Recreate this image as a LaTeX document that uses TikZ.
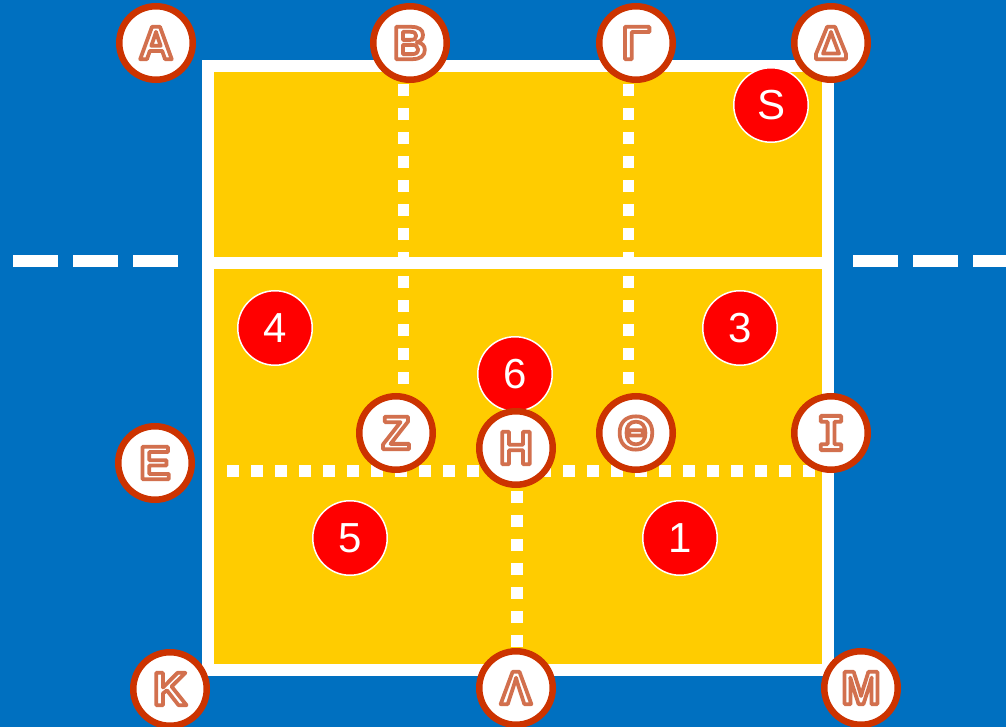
\documentclass[tikz,border=0pt]{standalone}
\usepackage{fontspec}
\setmainfont{Liberation Sans}
\newfontfamily\letfont{Liberation Sans Bold}[FakeBold=8]
\newfontfamily\iotafont{DejaVu Sans Mono Bold}[FakeBold=8]
\definecolor{bluebg}{HTML}{0070C0}
\definecolor{court}{HTML}{FFCC00}
\definecolor{ringc}{HTML}{CC3300}
\definecolor{letc}{HTML}{D2704E}
\definecolor{numred}{HTML}{FF0000}
\newcommand\lettxt[1]{\textcolor{white}{\special{pdf:literal direct 0.824 0.439 0.306 RG 1 j}#1}}
\tikzset{
  letring/.style={circle, draw=ringc, line width=6.5pt, fill=white, minimum size=73.5pt, inner sep=0pt,
    font=\fontsize{47}{47}\selectfont\letfont},
  numdisc/.style={circle, draw=white, line width=1.5pt, fill=numred, minimum size=74.5pt, inner sep=0pt,
    text=white, font=\fontsize{42}{42}\selectfont},
  dotline/.style={white, line width=11.5pt, dash pattern=on 12pt off 12pt},
  sideline/.style={white, line width=11.7pt, dash pattern=on 45pt off 15pt},
}
\begin{document}
\begin{tikzpicture}[x=1pt,y=-1pt]
\useasboundingbox (0,0) rectangle (1006,727);
\fill[bluebg] (0,0) rectangle (1006,727);
% court
\draw[white, line width=12pt, fill=court] (208,66) rectangle (828,670);
\coordinate (netL) at (214,263);
\coordinate (netR) at (822,263);
\draw[white, line width=12pt] (netL) -- (netR);
% dotted zone lines
\coordinate (v1a) at (403.5,84);  \coordinate (v1b) at (403.5,384);
\coordinate (v2a) at (628.5,84);  \coordinate (v2b) at (628.5,384);
\coordinate (ha) at (227,471);    \coordinate (hb) at (815,471);
\coordinate (v3a) at (517,491);   \coordinate (v3b) at (517,647);
\draw[dotline] (v1a) -- (v1b);
\draw[dotline] (v2a) -- (v2b);
\draw[dotline] (ha) -- (hb);
\draw[dotline] (v3a) -- (v3b);
% outside dashes
\coordinate (dl1) at (13,261);  \coordinate (dl2) at (178,261);
\coordinate (dr1) at (853,261); \coordinate (dr2) at (1006,261);
\draw[sideline] (dl1) -- (dl2);
\draw[sideline] (dr1) -- (dr2);
% players
\node[numdisc] (pS) at (771,105) {S};
\node[numdisc] (p4) at (275,328) {4};
\node[numdisc] (p3) at (740,328) {3};
\node[numdisc] (p6) at (515,374) {6};
\node[numdisc] (p5) at (350,538) {5};
\node[numdisc] (p1) at (680,538) {1};
% lettered points
\node[letring] (lA) at (156,43) {\lettxt{Α}};
\node[letring] (lB) at (410,43) {\lettxt{Β}};
\node[letring] (lG) at (636,43) {\lettxt{Γ}};
\node[letring] (lD) at (831,43) {\lettxt{Δ}};
\node[letring] (lE) at (155,463) {\lettxt{Ε}};
\node[letring] (lZ) at (396,433) {\lettxt{Ζ}};
\node[letring] (lH) at (516,448) {\lettxt{Η}};
\node[letring] (lTh) at (636,433) {\lettxt{Θ}};
\node[letring] (lI) at (831,433) {\iotafont\lettxt{Ι}};
\node[letring] (lK) at (170,689) {\lettxt{Κ}};
\node[letring] (lL) at (516,688) {\lettxt{Λ}};
\node[letring] (lM) at (861,688) {\lettxt{Μ}};
\end{tikzpicture}
\end{document}
